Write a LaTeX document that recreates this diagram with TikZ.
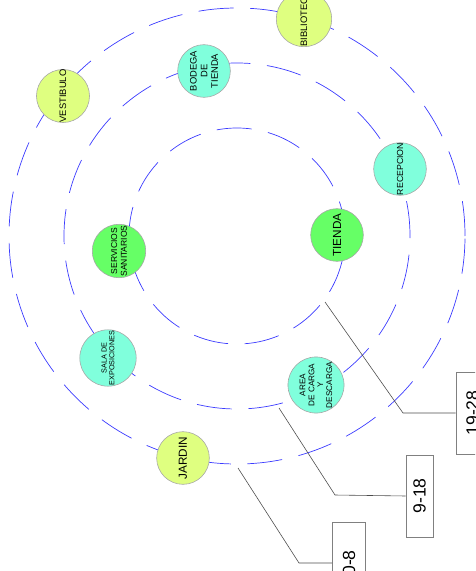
\documentclass[tikz,border=0pt]{standalone}
\usepackage{fontspec}
\setmainfont{Liberation Sans}
\usetikzlibrary{calc}
\definecolor{ringblue}{HTML}{3C3CFF}
\definecolor{zoneyellow}{HTML}{DFFF80}
\definecolor{zonecyan}{HTML}{80FFDC}
\definecolor{zonegreen}{HTML}{66FF66}
\newcommand{\fsz}[2]{\fontsize{#1}{#2}\selectfont}
\tikzset{
    ring/.style={draw=ringblue, line width=0.6pt, dash pattern=on 1.05cm off 0.5cm},
    zone/.style={circle, draw=gray!70, line width=0.5pt, minimum size=1.58cm, inner sep=0pt, rotate=90, align=center},
    outerzone/.style={zone, fill=zoneyellow},
    midzone/.style={zone, fill=zonecyan},
    innerzone/.style={zone, fill=zonegreen},
    leader/.style={draw=black!70, line width=0.5pt},
    tag/.style={draw=gray, line width=0.6pt, fill=white, rotate=90, minimum width=2.46cm, inner sep=0pt, font=\fsz{15}{15}}
}

\begin{document}
\begin{tikzpicture}[x=0.03cm, y=-0.03cm]
    \useasboundingbox (0,0) rectangle (475,571);
    \clip (0,0) rectangle (475,571);
    \coordinate (c) at (237,236);
    % Anillos
    \draw[ring] (c) circle[radius=3.24cm];
    \draw[ring] (c) circle[radius=5.19cm];
    \draw[ring] (c) circle[radius=6.84cm];
    % Zonas del anillo exterior
    \node[outerzone, font=\fsz{8}{8}] (biblioteca) at (304,19) {BIBLIOTECA};
    \node[outerzone, font=\fsz{8}{8}] (vestibulo) at (63,96) {VESTIBULO};
    \node[outerzone, font=\fsz{10}{10}] (jardin) at (183,458) {JARDIN};
    % Zonas del anillo medio
    \node[midzone, font=\fsz{8}{9}] (bodega) at (204,71) {BODEGA\\DE\\TIENDA};
    \node[midzone, font=\fsz{7.5}{7.5}] (recepcion) at (400,169) {RECEPCION};
    \node[midzone, font=\fsz{6.2}{6.8}] (sala) at (108,358) {SALA DE\\EXPOSICIONES};
    \node[midzone, font=\fsz{7}{7.6}] (carga) at (316,385) {AREA\\DE CARGA\\Y\\DESCARGA};
    % Zonas del anillo interior
    \node[innerzone, font=\fsz{10}{10}] (tienda) at (337,235) {TIENDA};
    \node[innerzone, font=\fsz{7.3}{8.4}] (sanitarios) at (119,251) {SERVICIOS\\SANITARIOS};
    % Rangos
    \node[tag, minimum height=0.99cm] (r3) at (472.5,413) {19-28};
    \node[tag, minimum height=0.81cm] (r2) at (419.5,496) {9-18};
    \node[tag, minimum height=0.99cm] (r1) at (349,563) {0-8};
    \coordinate (p3) at (325,302);
    \coordinate (p2) at (279,408);
    \coordinate (p1) at (238,468);
    \draw[leader] (p3) -- (403,413) -- (r3.north);
    \draw[leader] (p2) -- (335,495) -- (r2.north);
    \draw[leader] (p1) -- (299,563) -- (r1.north);
\end{tikzpicture}
\end{document}
